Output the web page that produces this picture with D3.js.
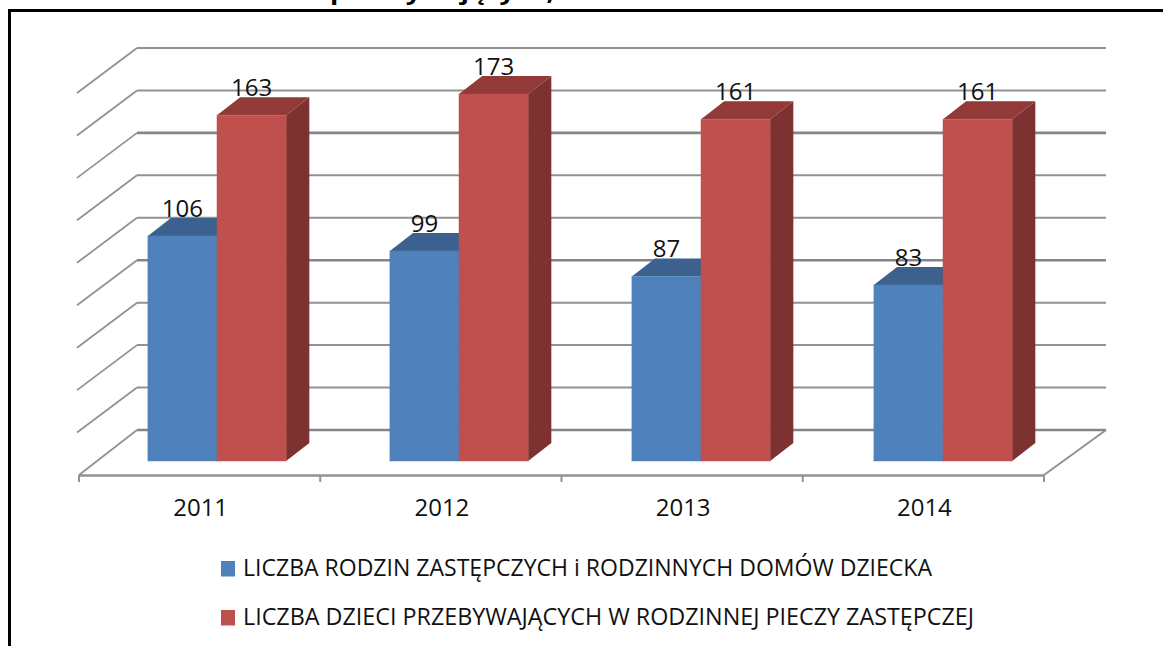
<!DOCTYPE html>
<html>
<head>
<meta charset="utf-8">
<script src="https://cdn.jsdelivr.net/npm/d3@7/dist/d3.min.js"></script>
<style>
  html, body { margin: 0; padding: 0; background: #fff; overflow: hidden; }
  text { font-family: "Open Sans", "Noto Sans", sans-serif; fill: #111; }
</style>
</head>
<body>
<div id="chart"></div>
<script>
const years = ["2011", "2012", "2013", "2014"];
const seriesNames = [
  "LICZBA RODZIN ZASTĘPCZYCH i RODZINNYCH DOMÓW DZIECKA",
  "LICZBA DZIECI PRZEBYWAJĄCYCH W RODZINNEJ PIECZY ZASTĘPCZEJ"
];
const rodziny = [106, 99, 87, 83];
const dzieci = [163, 173, 161, 161];
const yTicks = [0, 20, 40, 60, 80, 100, 120, 140, 160, 180];
const titleText = "przebywających, w latach 2011 - 2014";

const width = 1163;
const height = 646;

// fake 3D: z=0 is the front edge of the floor, z=1 the back wall
const depth = { x: 58, y: -45 };
const front = { left: 79, right: 1044 };
const barZ = [0.31, 0.71];

const svg = d3.select("#chart").append("svg")
  .attr("width", width)
  .attr("height", height);

const x = d3.scaleBand().domain(years).range([front.left, front.right]);
const xBars = d3.scaleBand().domain(years).range([78, 1046]);
const xSeries = d3.scaleBand().domain([0, 1]).range([0, xBars.bandwidth()])
  .paddingInner(0).paddingOuter(0.75);
const y = d3.scaleLinear().domain([0, 180]).range([430, 48]);

const pt = (px, v, z) => [px + depth.x * z, y(v) - depth.y * (1 - z)];
const poly = d3.line();

// frame, only top and left are in the picture
svg.append("path")
  .attr("d", poly([[9.5, height], [9.5, 10.5], [width, 10.5]]))
  .attr("fill", "none").attr("stroke", "#000").attr("stroke-width", 3);

// title is cut by the top edge
svg.append("text")
  .attr("x", 580).attr("y", 0)
  .attr("text-anchor", "middle")
  .attr("font-size", 22).attr("font-weight", 700)
  .attr("textLength", 500).attr("lengthAdjust", "spacingAndGlyphs")
  .style("fill", "#000")
  .text(titleText);

// walls
const gridColor = "#929292";
const heavy = (v) => v === 0 || v === 80 || v === 140;
const grid = svg.append("g").attr("fill", "none").attr("stroke", gridColor);
grid.selectAll("path.side")
  .data(yTicks)
  .enter().append("path")
  .attr("class", "side")
  .attr("stroke-width", 1.8)
  .attr("d", (d) => poly([[d === 0 ? 79 : 77, y(d) - depth.y], [137, y(d)]]));
grid.selectAll("path.wall")
  .data(yTicks)
  .enter().append("path")
  .attr("class", "wall")
  .attr("stroke", (d) => heavy(d) ? "#858585" : gridColor)
  .attr("stroke-width", (d) => heavy(d) ? 2.6 : 2)
  .attr("d", (d) => poly([[137, y(d)], [1106, y(d)]]));

// floor, right edge
grid.append("path").attr("stroke-width", 2)
  .attr("d", poly([[front.right, 475], [1106, 430]]));

// category axis: line and ticks on the band edges, labels from the axis
const tickXs = years.map((d) => x(d)).concat(front.right);
grid.append("path").attr("stroke-width", 2.6)
  .attr("d", poly([[front.left, 475.5], [front.right, 475.5]]));
grid.selectAll("path.tick")
  .data(tickXs)
  .enter().append("path")
  .attr("class", "tick")
  .attr("stroke-width", 2)
  .attr("d", (d) => poly([[d, 475], [d, 482]]));

const xAxis = svg.append("g")
  .attr("transform", "translate(0,475)")
  .call(d3.axisBottom(x).tickSize(0).tickPadding(24));
xAxis.select(".domain").remove();
xAxis.selectAll("text")
  .attr("font-size", 24)
  .attr("dx", 1)
  .style("font-family", '"Open Sans", "Noto Sans", sans-serif')
  .style("fill", "#111");

// bars
const colors = [
  { front: "#4f81bd", top: "#3c618f", side: "#32527a" },
  { front: "#c0504d", top: "#923a38", side: "#7d3130" }
];
const rows = years.flatMap((year, i) => [
  { year, s: 0, value: rodziny[i] },
  { year, s: 1, value: dzieci[i] }
]);

const bars = svg.selectAll("g.bar")
  .data(rows)
  .enter().append("g")
  .attr("class", "bar");

const barLeft = (d) => xBars(d.year) + xSeries(d.s);
const barRight = (d) => barLeft(d) + xSeries.bandwidth();

bars.append("path")
  .attr("fill", (d) => colors[d.s].side)
  .attr("d", (d) => poly([
    pt(barRight(d), d.value, barZ[0]), pt(barRight(d), d.value, barZ[1]),
    pt(barRight(d), 0, barZ[1]), pt(barRight(d), 0, barZ[0])
  ]) + "Z");

bars.append("path")
  .attr("fill", (d) => colors[d.s].top)
  .attr("d", (d) => poly([
    pt(barLeft(d), d.value, barZ[0]), pt(barLeft(d), d.value, barZ[1]),
    pt(barRight(d), d.value, barZ[1]), pt(barRight(d), d.value, barZ[0])
  ]) + "Z");

// front face, the soft edge is in the reference too
bars.append("path")
  .attr("fill", (d) => colors[d.s].front)
  .attr("stroke", (d) => colors[d.s].front)
  .attr("stroke-opacity", 0.3)
  .attr("stroke-width", 1.5)
  .attr("d", (d) => poly([
    pt(barLeft(d), d.value, barZ[0]), pt(barRight(d), d.value, barZ[0]),
    pt(barRight(d), 0, barZ[0]), pt(barLeft(d), 0, barZ[0])
  ]) + "Z");

// value labels
svg.selectAll("text.value")
  .data(rows)
  .enter().append("text")
  .attr("class", "value")
  .attr("text-anchor", "middle")
  .attr("font-size", 24)
  .attr("x", (d) => pt(barLeft(d), d.value, barZ[0])[0] + xSeries.bandwidth() / 2)
  .attr("y", (d) => pt(barLeft(d), d.value, barZ[0])[1] - 19)
  .text((d) => d.value);

// legend
const legendLengths = [689, 731];
const legend = svg.selectAll("g.legend")
  .data(seriesNames)
  .enter().append("g")
  .attr("class", "legend")
  .attr("transform", (d, i) => `translate(221,${561 + i * 49})`);
legend.append("rect")
  .attr("width", 14).attr("height", 15.5)
  .attr("fill", (d, i) => colors[i].front);
legend.append("text")
  .attr("x", 22).attr("y", 15)
  .attr("font-size", 23)
  .attr("textLength", (d, i) => legendLengths[i])
  .attr("lengthAdjust", "spacingAndGlyphs")
  .text((d) => d);
</script>
</body>
</html>
